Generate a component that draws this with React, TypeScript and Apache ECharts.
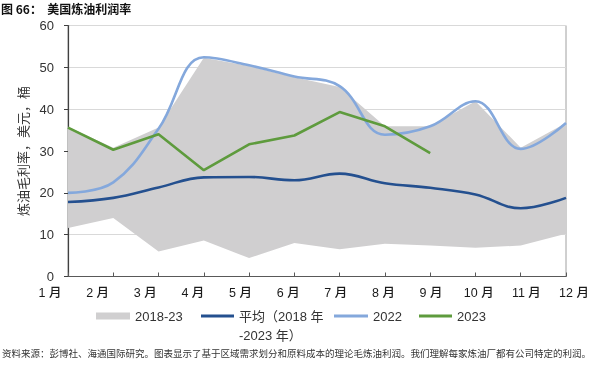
import React, { useEffect, useRef } from "react";
import * as echarts from "echarts";

const months = ["1 月", "2 月", "3 月", "4 月", "5 月", "6 月", "7 月", "8 月", "9 月", "10 月", "11 月", "12 月"];
const bandLow = [11.6, 14.0, 6.0, 8.6, 4.4, 8.0, 6.5, 7.8, 7.4, 6.9, 7.4, 10.2];
const bandHigh = [35.8, 30.8, 35.6, 52.3, 50.3, 47.6, 45.3, 35.9, 35.9, 41.9, 30.8, 36.7];
const avg = [17.8, 18.8, 21.3, 23.7, 23.8, 23.0, 24.6, 22.3, 21.2, 19.6, 16.3, 18.8];
const y2022 = [20.0, 22.5, 35.3, 52.4, 50.5, 47.8, 45.5, 33.9, 35.9, 41.9, 30.5, 36.7];
const y2023 = [35.6, 30.3, 34.0, 25.4, 31.6, 33.7, 39.3, 35.9, 29.5];
const yTicks = { min: 0, max: 60, interval: 10 };

const NAME_BAND = "2018-23";
const NAME_AVG = "平均（2018 年-2023 年）";
const NAME_2022 = "2022";
const NAME_2023 = "2023";

const C_BAND = "#d0cfd0";
const C_AVG = "#24508f";
const C_2022 = "#84a8dc";
const C_2023 = "#5e9b3d";
const FONT = "Liberation Sans, Noto Sans CJK SC, sans-serif";
const CJK = "Noto Sans CJK SC, sans-serif";

export default function App() {
  const ref = useRef<HTMLDivElement>(null);
  useEffect(() => {
    if (!ref.current) return;
    const chart = echarts.init(ref.current, null, { renderer: "svg" });
    const legendBase = {
      orient: "horizontal",
      icon: "rect",
      itemHeight: 3,
      selectedMode: false,
      padding: 0,
      textStyle: { fontSize: 13, color: "#333", fontFamily: FONT, lineHeight: 16 },
    };
    chart.setOption({
      animation: false,
      grid: [
        { left: 68, right: 28, top: 25.5, bottom: 91.5, show: true, borderColor: "#a0a0a0", borderWidth: 1, containLabel: false },
        { left: 50, right: 20, top: 25.5, bottom: 91.5, show: false, containLabel: false },
      ],
      xAxis: [
        {
          type: "category",
          gridIndex: 0,
          data: months,
          boundaryGap: false,
          axisLine: { show: true, lineStyle: { color: "#595959", width: 1.2 } },
          axisTick: { show: true, inside: true, length: 4, lineStyle: { color: "#595959" } },
          axisLabel: { show: false },
          splitLine: { show: false },
        },
        {
          type: "category",
          gridIndex: 1,
          data: months,
          boundaryGap: false,
          axisLine: { show: false },
          axisTick: { show: false },
          axisLabel: { show: true, margin: 10, fontSize: 12.5, fontWeight: 500, color: "#1a1a1a", fontFamily: FONT, interval: 0 },
          splitLine: { show: false },
        },
      ],
      yAxis: [
        {
          type: "value",
          gridIndex: 0,
          min: yTicks.min,
          max: yTicks.max,
          interval: yTicks.interval,
          name: "炼油毛利率，美元，桶",
          nameLocation: "middle",
          nameRotate: 90,
          nameGap: 33,
          nameTextStyle: { fontSize: 13, color: "#333", fontFamily: CJK },
          axisLine: { show: true, lineStyle: { color: "#404040", width: 1.2 } },
          axisTick: { show: true, length: 4, lineStyle: { color: "#404040" } },
          axisLabel: { margin: 14, fontSize: 13, color: "#333", fontFamily: FONT },
          splitLine: { show: true, lineStyle: { color: "#d9d9d9", width: 1 } },
        },
        { type: "value", gridIndex: 1, min: 0, max: 60, show: false },
      ],
      legend: [
        { ...legendBase, left: 96, top: 308, itemWidth: 34, itemHeight: 7, data: [NAME_BAND] },
        {
          ...legendBase,
          left: 201,
          top: 308,
          itemWidth: 33,
          data: [NAME_AVG],
          formatter: () => "平均（2018 年",
        },
        { ...legendBase, left: 334, top: 308, itemWidth: 34, data: [NAME_2022] },
        { ...legendBase, left: 419, top: 308, itemWidth: 33, data: [NAME_2023] },
      ],
      series: [
        {
          name: "band-low",
          type: "line",
          stack: "band",
          data: bandLow,
          symbol: "none",
          lineStyle: { opacity: 0 },
          areaStyle: { opacity: 0 },
          silent: true,
          z: 1,
        },
        {
          name: NAME_BAND,
          type: "line",
          stack: "band",
          data: bandHigh.map((h, i) => +(h - bandLow[i]).toFixed(2)),
          symbol: "none",
          itemStyle: { color: C_BAND },
          lineStyle: { opacity: 0, width: 0 },
          areaStyle: { color: C_BAND, opacity: 1 },
          z: 1,
        },
        {
          name: NAME_AVG,
          type: "line",
          data: avg,
          smooth: 0.4,
          symbol: "none",
          itemStyle: { color: C_AVG },
          lineStyle: { color: C_AVG, width: 2.6 },
          z: 3,
        },
        {
          name: NAME_2022,
          type: "line",
          data: y2022,
          smooth: 0.4,
          symbol: "none",
          itemStyle: { color: C_2022 },
          lineStyle: { color: C_2022, width: 2.6 },
          z: 3,
        },
        {
          name: NAME_2023,
          type: "line",
          data: y2023,
          symbol: "none",
          itemStyle: { color: C_2023 },
          lineStyle: { color: C_2023, width: 2.6 },
          z: 4,
        },
      ],
      graphic: [
        {
          type: "text",
          left: 1,
          top: 2,
          style: { text: "图 66：  美国炼油利润率", fontSize: 12, fontWeight: "bold", fill: "#111", fontFamily: CJK },
        },
        {
          type: "text",
          left: 239,
          top: 329,
          style: { text: "-2023 年）", fontSize: 13, fill: "#333", fontFamily: FONT },
        },
        {
          type: "text",
          left: 2,
          top: 348,
          style: {
            text: "资料来源：彭博社、海通国际研究。图表显示了基于区域需求划分和原料成本的理论毛炼油利润。我们理解每家炼油厂都有公司特定的利润。",
            fontSize: 9.5,
            fill: "#333",
            fontFamily: CJK,
          },
        },
      ],
    });
    return () => chart.dispose();
  }, []);
  return <div ref={ref} style={{ width: 594, height: 368, position: "fixed", left: 0, top: 0 }} />;
}
